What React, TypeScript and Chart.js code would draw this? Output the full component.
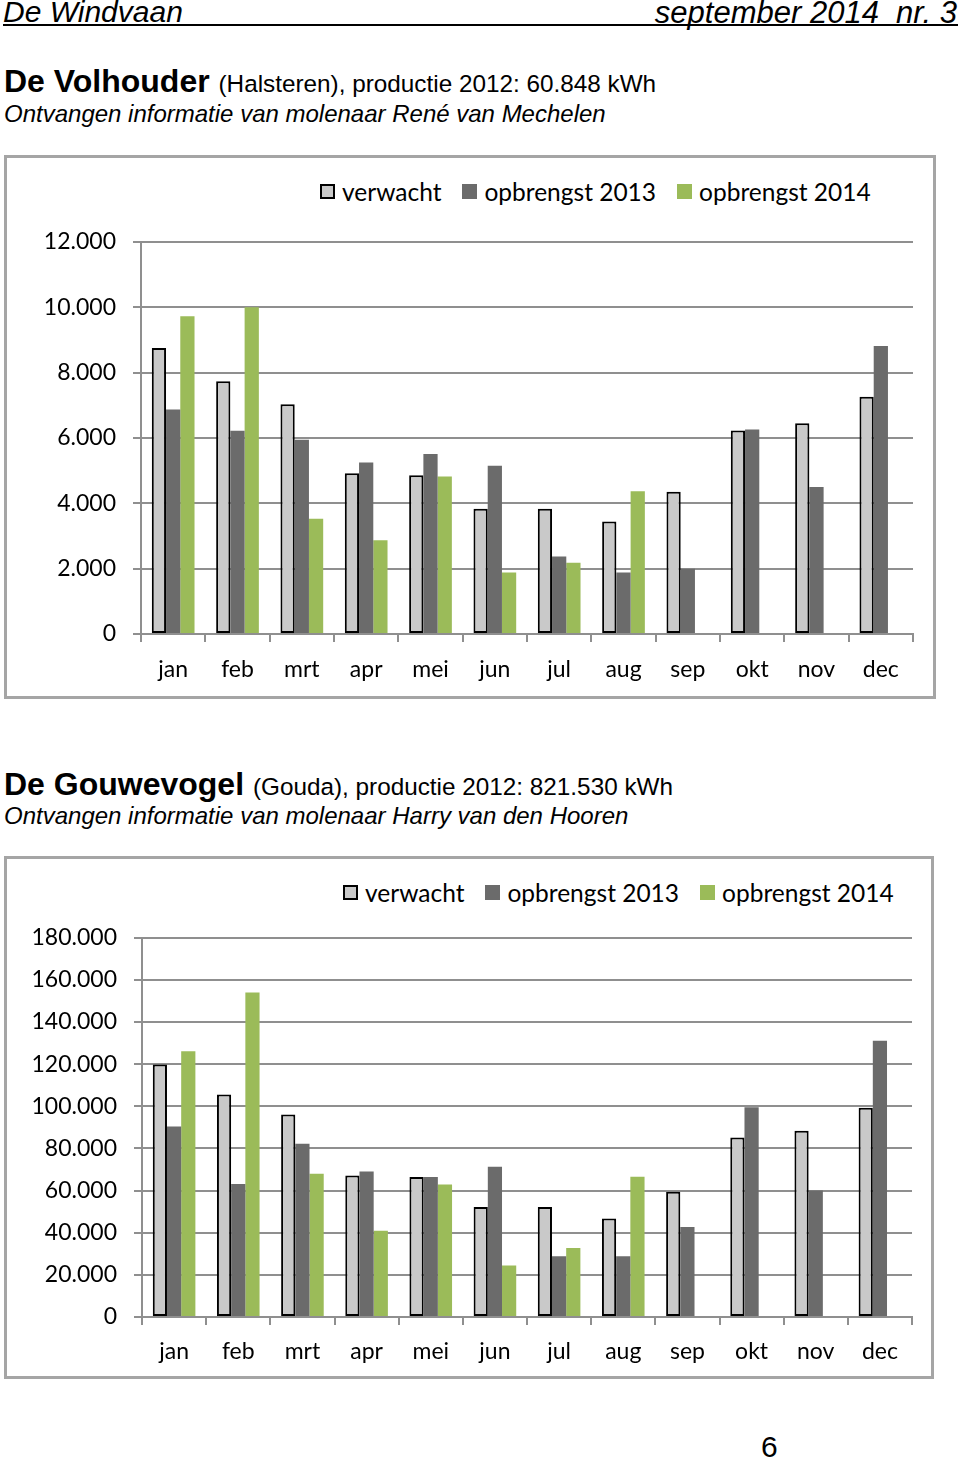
import React, { useEffect, useRef } from 'react';
import { Chart, registerables } from 'chart.js';

Chart.register(...registerables);

// ---------- data ----------
const months = ['jan', 'feb', 'mrt', 'apr', 'mei', 'jun', 'jul', 'aug', 'sep', 'okt', 'nov', 'dec'];
const seriesLabels = ['verwacht', 'opbrengst 2013', 'opbrengst 2014'];
const seriesColors = ['#c9c9c9', '#6b6b6b', '#9bbb59'];

// De Volhouder (kWh)
const volVerwacht = [8750, 7730, 7030, 4920, 4860, 3830, 3830, 3440, 4350, 6230, 6450, 7260];
const volOpbrengst2013 = [6870, 6220, 5940, 5250, 5510, 5150, 2370, 1880, 2000, 6260, 4500, 8810];
const volOpbrengst2014 = [9720, 10000, 3530, 2870, 4820, 1880, 2180, 4370, null, null, null, null];
const volYTicks = ['0', '2.000', '4.000', '6.000', '8.000', '10.000', '12.000'];
const volYMax = 12000;
const volYStep = 2000;

// De Gouwevogel (kWh)
const gouVerwacht = [119800, 105600, 96100, 67200, 66400, 52200, 52200, 46800, 59500, 85200, 88400, 99300];
const gouOpbrengst2013 = [90400, 63100, 82200, 69100, 66400, 71300, 28800, 28800, 42700, 99600, 60100, 131100];
const gouOpbrengst2014 = [126100, 154000, 68000, 41000, 62900, 24400, 32700, 66600, null, null, null, null];
const gouYTicks = ['0', '20.000', '40.000', '60.000', '80.000', '100.000', '120.000', '140.000', '160.000', '180.000'];
const gouYMax = 180000;
const gouYStep = 20000;

// ---------- styles ----------
const GRID = '#8f8f8f';
const CHART_FONT = 'Lato, "Open Sans", sans-serif';
const TEXT_FONT = '"Liberation Sans", Arial, sans-serif';

type PanelProps = {
  verwacht: (number | null)[];
  y2013: (number | null)[];
  y2014: (number | null)[];
  yMax: number;
  yStep: number;
  yLabels: string[];
  left: number;
  top: number;
  width: number;
  height: number;
  padTop: number;
  padRight: number;
  axisWidth: number;
  axisHeight: number;
  xLabelPad: number;
};

function BarPanel(p: PanelProps) {
  const ref = useRef<HTMLCanvasElement | null>(null);
  useEffect(() => {
    if (!ref.current) return;
    const font = { family: CHART_FONT, size: 23 };
    const chart = new Chart(ref.current, {
      type: 'bar',
      data: {
        labels: months,
        datasets: [
          {
            label: seriesLabels[0],
            data: p.verwacht,
            backgroundColor: seriesColors[0],
            borderColor: '#000000',
            borderWidth: 2,
            borderSkipped: false,
          },
          { label: seriesLabels[1], data: p.y2013, backgroundColor: seriesColors[1], borderWidth: 0 },
          { label: seriesLabels[2], data: p.y2014, backgroundColor: seriesColors[2], borderWidth: 0 },
        ],
      },
      options: {
        responsive: false,
        animation: false,
        devicePixelRatio: 1,
        datasets: { bar: { categoryPercentage: 0.664, barPercentage: 1 } },
        layout: { padding: { top: p.padTop, right: p.padRight, left: 0, bottom: 0 } },
        plugins: { legend: { display: false }, tooltip: { enabled: false } },
        scales: {
          x: {
            offset: true,
            grid: { offset: true, drawOnChartArea: false, drawTicks: true, tickLength: 8, color: GRID, lineWidth: 2 },
            border: { display: true, color: GRID, width: 2 },
            ticks: { font, color: '#000', padding: p.xLabelPad, maxRotation: 0, autoSkip: false },
            afterFit: (s: any) => {
              s.height = p.axisHeight;
            },
          },
          y: {
            min: 0,
            max: p.yMax,
            grid: { color: GRID, lineWidth: 2, tickLength: 8 },
            border: { display: true, color: GRID, width: 2 },
            ticks: {
              stepSize: p.yStep,
              font,
              color: '#000',
              padding: 17,
              callback: (_v: any, i: number) => p.yLabels[i],
            },
            afterFit: (s: any) => {
              s.width = p.axisWidth;
            },
          },
        },
      } as any,
    });
    return () => chart.destroy();
  }, []);
  return (
    <canvas
      ref={ref}
      width={p.width}
      height={p.height}
      style={{ position: 'absolute', left: p.left, top: p.top, width: p.width, height: p.height }}
    />
  );
}

function Legend({ left, centerY }: { left: number; centerY: number }) {
  return (
    <div
      style={{
        position: 'absolute',
        left,
        top: centerY - 15,
        height: 30,
        display: 'flex',
        alignItems: 'center',
        fontFamily: CHART_FONT,
        fontSize: 24.5,
        color: '#000',
        whiteSpace: 'nowrap',
      }}
    >
      {seriesLabels.map((lab, i) => (
        <div key={lab} style={{ display: 'flex', alignItems: 'center', marginRight: 21 }}>
          <div
            style={{
              width: 15,
              height: 15,
              boxSizing: 'border-box',
              background: seriesColors[i],
              border: i === 0 ? '2px solid #000' : 'none',
              marginRight: 7,
            }}
          />
          <span>{lab}</span>
        </div>
      ))}
    </div>
  );
}

function TextLine({
  top,
  left,
  right,
  size,
  children,
  italic,
  bold,
}: {
  top: number;
  left?: number;
  right?: number;
  size: number;
  children: React.ReactNode;
  italic?: boolean;
  bold?: boolean;
}) {
  return (
    <div
      style={{
        position: 'absolute',
        top,
        left,
        right,
        fontFamily: TEXT_FONT,
        fontSize: size,
        lineHeight: `${size}px`,
        fontStyle: italic ? 'italic' : 'normal',
        fontWeight: bold ? 700 : 400,
        color: '#000',
        whiteSpace: 'nowrap',
      }}
    >
      {children}
    </div>
  );
}

export default function App() {
  return (
    <div
      style={{
        position: 'absolute',
        left: 0,
        top: 0,
        width: 960,
        height: 1461,
        background: '#fff',
        overflow: 'hidden',
      }}
    >
      {/* page header */}
      <TextLine top={-3} left={3} size={30} italic>
        De Windvaan
      </TextLine>
      <TextLine top={-3} right={3} size={31} italic>
        september 2014&nbsp;&nbsp;nr. 3
      </TextLine>
      <div style={{ position: 'absolute', left: 3, top: 24, width: 955, height: 2, background: '#000' }} />

      {/* De Volhouder */}
      <TextLine top={65} left={4} size={32} bold>
        De Volhouder <span style={{ fontSize: 24.3, fontWeight: 400 }}>(Halsteren), productie 2012: 60.848 kWh</span>
      </TextLine>
      <TextLine top={102} left={4} size={24} italic>
        Ontvangen informatie van molenaar René van Mechelen
      </TextLine>
      <div
        style={{
          position: 'absolute',
          left: 4,
          top: 155,
          width: 932,
          height: 544,
          border: '3px solid #a5a5a5',
          boxSizing: 'border-box',
        }}
      />
      <Legend left={320} centerY={191} />
      <BarPanel
        verwacht={volVerwacht}
        y2013={volOpbrengst2013}
        y2014={volOpbrengst2014}
        yMax={volYMax}
        yStep={volYStep}
        yLabels={volYTicks}
        left={10}
        top={211}
        width={920}
        height={482}
        padTop={0}
        padRight={17}
        axisWidth={131}
        axisHeight={59}
        xLabelPad={14}
      />

      {/* De Gouwevogel */}
      <TextLine top={768} left={4} size={32} bold>
        De Gouwevogel <span style={{ fontSize: 24.3, fontWeight: 400 }}>(Gouda), productie 2012: 821.530 kWh</span>
      </TextLine>
      <TextLine top={804} left={4} size={24} italic>
        Ontvangen informatie van molenaar Harry van den Hooren
      </TextLine>
      <div
        style={{
          position: 'absolute',
          left: 4,
          top: 856,
          width: 930,
          height: 523,
          border: '3px solid #a5a5a5',
          boxSizing: 'border-box',
        }}
      />
      <Legend left={343} centerY={892} />
      <BarPanel
        verwacht={gouVerwacht}
        y2013={gouOpbrengst2013}
        y2014={gouOpbrengst2014}
        yMax={gouYMax}
        yStep={gouYStep}
        yLabels={gouYTicks}
        left={10}
        top={907}
        width={920}
        height={468}
        padTop={0}
        padRight={18}
        axisWidth={132}
        axisHeight={58}
        xLabelPad={13}
      />

      {/* page number */}
      <TextLine top={1432} left={761} size={30}>
        6
      </TextLine>
    </div>
  );
}
